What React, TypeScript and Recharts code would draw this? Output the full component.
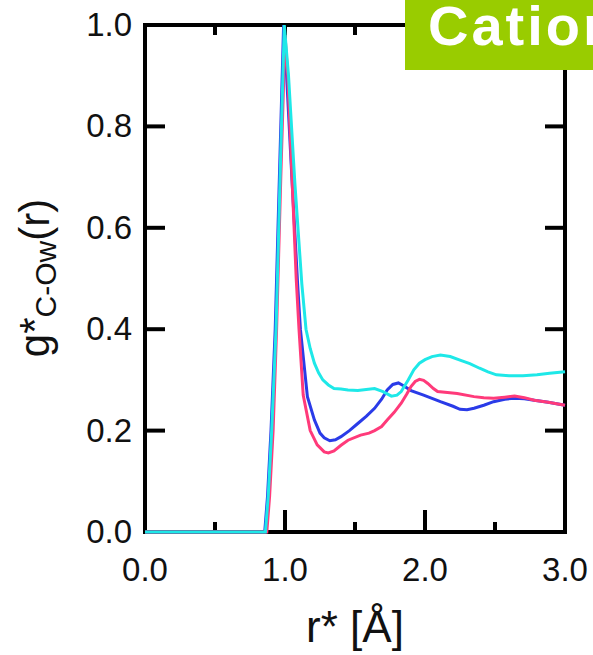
import React from "react";
import { LineChart, Line, XAxis, YAxis } from "recharts";

const FONT = "'Liberation Sans', Arial, Helvetica, sans-serif";

const xTicks = [0, 0.5, 1, 1.5, 2, 2.5, 3];
const yTicks = [0, 0.2, 0.4, 0.6, 0.8, 1.0];

const blueR = [0, 0.855, 0.875, 0.9, 0.93, 0.96, 0.99, 1.01, 1.05, 1.09, 1.11, 1.14, 1.16, 1.21, 1.25, 1.28, 1.32, 1.36, 1.4, 1.46, 1.52, 1.58, 1.64, 1.69, 1.73, 1.77, 1.81, 1.85, 1.9, 1.99, 2.11, 2.2, 2.25, 2.3, 2.35, 2.42, 2.49, 2.57, 2.64, 2.71, 2.78, 2.88, 3.0];
const blueG = [0, 0, 0.07, 0.2, 0.4, 0.7, 1.0, 0.907, 0.694, 0.49, 0.4, 0.32, 0.267, 0.221, 0.195, 0.186, 0.18, 0.182, 0.188, 0.2, 0.214, 0.228, 0.244, 0.262, 0.28, 0.291, 0.294, 0.288, 0.279, 0.27, 0.257, 0.248, 0.242, 0.241, 0.244, 0.25, 0.257, 0.262, 0.264, 0.263, 0.26, 0.256, 0.25];

const pinkR = [0, 0.87, 0.89, 0.915, 0.94, 0.97, 1.0, 1.02, 1.05, 1.08, 1.1, 1.13, 1.18, 1.23, 1.28, 1.31, 1.35, 1.4, 1.45, 1.54, 1.6, 1.64, 1.69, 1.73, 1.78, 1.83, 1.87, 1.9, 1.93, 1.96, 1.99, 2.02, 2.06, 2.09, 2.16, 2.23, 2.35, 2.42, 2.49, 2.57, 2.64, 2.71, 2.78, 2.88, 3.0];
const pinkG = [0, 0, 0.07, 0.2, 0.4, 0.7, 0.98, 0.9, 0.7, 0.5, 0.4, 0.27, 0.2, 0.172, 0.158, 0.156, 0.16, 0.171, 0.181, 0.191, 0.195, 0.2, 0.208, 0.221, 0.236, 0.254, 0.272, 0.287, 0.297, 0.301, 0.299, 0.293, 0.283, 0.277, 0.275, 0.273, 0.267, 0.265, 0.264, 0.266, 0.268, 0.265, 0.26, 0.256, 0.25];

const cyanR = [0, 0.86, 0.88, 0.905, 0.936, 0.965, 0.995, 1.025, 1.07, 1.12, 1.15, 1.18, 1.21, 1.24, 1.27, 1.31, 1.35, 1.4, 1.45, 1.52, 1.58, 1.64, 1.7, 1.76, 1.8, 1.83, 1.88, 1.92, 1.96, 2.0, 2.05, 2.11, 2.18, 2.25, 2.32, 2.39, 2.45, 2.51, 2.6, 2.7, 2.8, 2.89, 3.0];
const cyanG = [0, 0, 0.07, 0.2, 0.4, 0.7, 1.0, 0.9, 0.69, 0.49, 0.4, 0.362, 0.333, 0.314, 0.3, 0.29, 0.283, 0.282, 0.28, 0.279, 0.281, 0.283, 0.277, 0.268, 0.27, 0.277, 0.3, 0.32, 0.333, 0.34, 0.346, 0.349, 0.346, 0.339, 0.332, 0.323, 0.316, 0.31, 0.308, 0.308, 0.31, 0.313, 0.316];

const zip = (rs: number[], gs: number[]) => rs.map((r, i) => ({ r, g: gs[i] }));
const blueData = zip(blueR, blueG);
const pinkData = zip(pinkR, pinkG);
const cyanData = zip(cyanR, cyanG);

const isMajor = (v: number) => Math.abs(v - Math.round(v)) < 1e-6;

function BottomTick(props: any) {
  const { x, y, payload } = props;
  const v = payload.value;
  const major = isMajor(v);
  return (
    <g>
      <line x1={x} x2={x} y1={y} y2={y - (major ? 22 : 10)} stroke="#000" strokeWidth={4} />
      {major && (
        <text x={x} y={y + 49} textAnchor="middle" fontSize={33} fill="#111" fontFamily={FONT}>
          {v.toFixed(1)}
        </text>
      )}
    </g>
  );
}

function TopTick(props: any) {
  const { x, y, payload } = props;
  const major = isMajor(payload.value);
  return <line x1={x} x2={x} y1={y} y2={y + (major ? 22 : 10)} stroke="#000" strokeWidth={4} />;
}

function LeftTick(props: any) {
  const { x, y, payload } = props;
  return (
    <g>
      <line x1={x} x2={x + 20} y1={y} y2={y} stroke="#000" strokeWidth={4} />
      <text x={x - 13} y={y + 11} textAnchor="end" fontSize={33} fill="#111" fontFamily={FONT}>
        {Number(payload.value).toFixed(1)}
      </text>
    </g>
  );
}

function RightTick(props: any) {
  const { x, y } = props;
  return <line x1={x - 20} x2={x} y1={y} y2={y} stroke="#000" strokeWidth={4} />;
}

const axisLine = { stroke: "#000", strokeWidth: 4, strokeLinecap: "square" as const };

const W = 593;
const H = 655;
const PLOT = { top: 25, right: 28, left: 145, bottom: 123 };

export default function App() {
  return (
    <div style={{ position: "absolute", left: 0, top: 0, width: W, height: H, overflow: "hidden", background: "#fff" }}>
      {/* frame, ticks and labels */}
      <div style={{ position: "absolute", left: 0, top: 0 }}>
        <LineChart width={W} height={H} data={blueData} margin={{ top: PLOT.top - 1, right: PLOT.right - 1, left: 0, bottom: 0 }}>
          <XAxis
            dataKey="r"
            type="number"
            domain={[0, 3]}
            ticks={xTicks}
            interval={0}
            height={PLOT.bottom}
            tickSize={0}
            tickMargin={0}
            tickLine={false}
            axisLine={axisLine}
            tick={<BottomTick />}
            label={{
              content: (p: any) => {
                const vb = p.viewBox;
                return (
                  <text x={vb.x + vb.width / 2} y={vb.y + 110} textAnchor="middle" fontSize={44} fill="#111" fontFamily={FONT}>
                    r* [Å]
                  </text>
                );
              },
            }}
          />
          <XAxis
            xAxisId="top"
            orientation="top"
            dataKey="r"
            type="number"
            domain={[0, 3]}
            ticks={xTicks}
            interval={0}
            height={1}
            tickSize={0}
            tickMargin={0}
            tickLine={false}
            axisLine={axisLine}
            tick={<TopTick />}
          />
          <YAxis
            dataKey="g"
            type="number"
            domain={[0, 1]}
            ticks={yTicks}
            interval={0}
            width={PLOT.left}
            tickSize={0}
            tickMargin={0}
            tickLine={false}
            axisLine={axisLine}
            tick={<LeftTick />}
            label={{
              content: () => (
                <text transform="rotate(-90, 49, 278)" x={49} y={278} textAnchor="middle" fontSize={42} fill="#111" fontFamily={FONT}>
                  g*
                  <tspan fontSize={30} dy={7}>C-Ow</tspan>
                  <tspan dy={-7}>(r)</tspan>
                </text>
              ),
            }}
          />
          <YAxis
            yAxisId="right"
            orientation="right"
            dataKey="g"
            type="number"
            domain={[0, 1]}
            ticks={yTicks}
            interval={0}
            width={1}
            tickSize={0}
            tickMargin={0}
            tickLine={false}
            axisLine={axisLine}
            tick={<RightTick />}
          />
        </LineChart>
      </div>
      {/* data lines drawn on top of the frame */}
      <div style={{ position: "absolute", left: 0, top: 0 }}>
        <LineChart width={W} height={H} margin={PLOT}>
          <XAxis dataKey="r" type="number" domain={[0, 3]} hide />
          <YAxis type="number" domain={[0, 1]} hide />
          <Line data={blueData} dataKey="g" type="linear" stroke="#2a3be8" strokeWidth={3} dot={false} isAnimationActive={false} />
          <Line data={pinkData} dataKey="g" type="linear" stroke="#ff3a7a" strokeWidth={3} dot={false} isAnimationActive={false} />
          <Line data={cyanData} dataKey="g" type="linear" stroke="#1ee8e8" strokeWidth={3} dot={false} isAnimationActive={false} />
        </LineChart>
      </div>
      <svg width={W} height={H} style={{ position: "absolute", left: 0, top: 0, pointerEvents: "none" }}>
        <rect x={405} y={0} width={200} height={70} fill="#99cc00" />
        <text x={428} y={45} fontSize={56} fontWeight="bold" fill="#fff" fontFamily={FONT} letterSpacing={3}>
          Cation
        </text>
      </svg>
    </div>
  );
}
